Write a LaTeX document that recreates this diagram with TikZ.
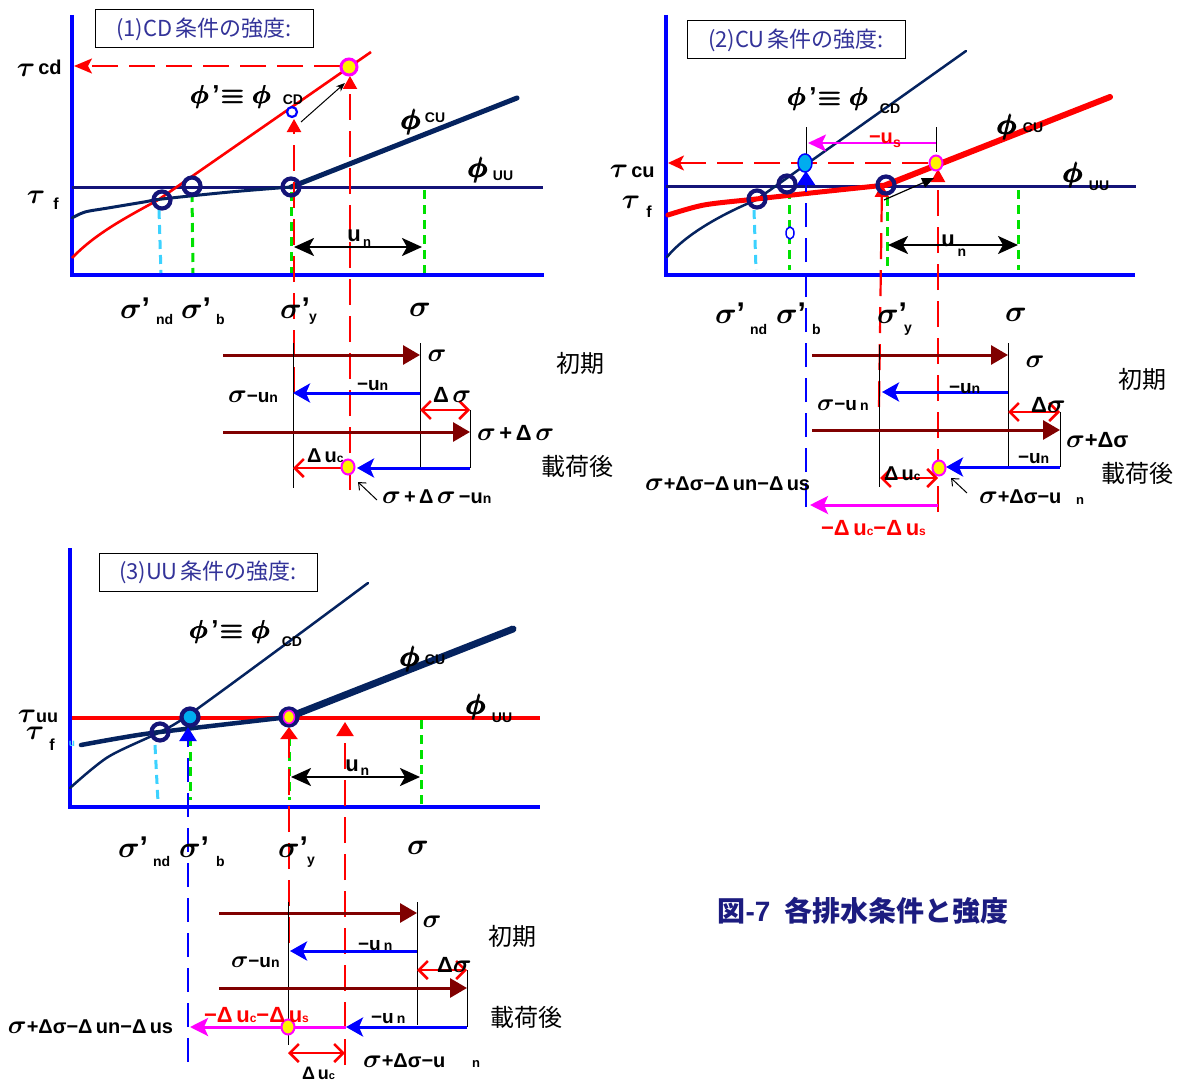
\RequirePackage{fix-cm}
\documentclass[tikz,border=0pt]{standalone}
\usepackage{amsmath}
\usepackage{fontspec}
\setmainfont{Liberation Sans}
\newfontfamily\jp{Noto Sans CJK JP}
\usetikzlibrary{arrows.meta,shapes.geometric}

\definecolor{axisblue}{RGB}{0,0,255}
\definecolor{navyln}{RGB}{20,20,120}
\definecolor{cunavy}{RGB}{5,35,95}
\definecolor{titleblue}{RGB}{51,51,153}
\definecolor{dkred}{RGB}{128,0,0}
\definecolor{lgreen}{RGB}{0,225,0}
\definecolor{lcyan}{RGB}{60,210,255}
\definecolor{capblue}{RGB}{28,28,128}
\definecolor{mag}{RGB}{255,0,255}

\newcommand\fs[1]{\fontsize{#1}{#1}\selectfont}
\newcommand\Sg{\ensuremath{\boldsymbol{\sigma}}}
\newcommand\Tu{\ensuremath{\boldsymbol{\tau}}}
\newcommand\Ph{\ensuremath{\pmb{\boldsymbol{\phi}}}}
\newcommand\SG[1]{{\fs{#1}\Sg}}
\newcommand\PhEq{\Ph\hspace{3pt}\textbf{’}\hspace{2pt}$\pmb{\boldsymbol{\equiv}}$\hspace{8pt}\Ph}

\tikzset{
  txt/.style={inner sep=0pt, outer sep=0pt},
  sn/.style={txt, font=\bfseries\fs{20}},
  sb/.style={txt, font=\bfseries\fs{14}},
  gx/.style={txt, font=\fs{30}},
  jpn/.style={txt, font=\jp\fs{24}},
  titlebox/.style={draw=black, line width=1pt, minimum width=218pt, minimum height=38pt,
    inner sep=0pt, font=\jp\fs{22}, text=titleblue},
  axisln/.style={axisblue, line width=4.5pt, line join=miter},
  tauln/.style={navyln, line width=3pt},
  cuthin/.style={cunavy, line width=3pt, line cap=round},
  cuthick/.style={cunavy, line width=5pt, line cap=round},
  cdthin/.style={cunavy, line width=2.5pt, line cap=round},
  grn/.style={lgreen, line width=3pt, dash pattern=on 9pt off 6pt},
  cyn/.style={lcyan, line width=3pt, dash pattern=on 9pt off 6pt},
  rdash/.style={red, line width=2.2pt, dash pattern=on 26pt off 11pt},
  bdash/.style={axisblue, line width=2.2pt, dash pattern=on 24pt off 11pt},
  ring/.style={circle, draw=navyln, line width=4.2pt, minimum size=17pt, inner sep=0pt},
  yel/.style={ellipse, fill=yellow, draw=mag, line width=2pt, minimum width=13pt, minimum height=15pt, inner sep=0pt},
  cyb/.style={ellipse, fill=cyan, draw=axisblue, line width=1.5pt, minimum width=14pt, minimum height=18pt, inner sep=0pt},
  dkarr/.style={dkred, line width=3pt, -{Triangle[length=17pt,width=19pt]}},
  barr/.style={axisblue, line width=3pt, -{Stealth[length=17pt,width=19pt,inset=4pt]}},
  ropen/.style={red, line width=2.5pt, -{Straight Barb[length=9pt,width=18pt]}},
  ropentwo/.style={red, line width=2.5pt, {Straight Barb[length=9pt,width=18pt]}-{Straight Barb[length=9pt,width=18pt]}},
  marr/.style={mag, line width=3pt, -{Stealth[length=18pt,width=18pt,inset=4pt]}},
  blk/.style={black, line width=1pt},
  unarr/.style={black, line width=2.5pt, {Stealth[length=20pt,width=18pt,inset=5pt]}-{Stealth[length=20pt,width=18pt,inset=5pt]}},
  rup/.style={-{Triangle[length=13pt,width=14pt]}},
}

\begin{document}
\begin{tikzpicture}[x=1pt,y=-1pt]
\useasboundingbox (0,0) rectangle (1179,1081);
\fill[white] (0,0) rectangle (1179,1081);

%% ================= (1) CD =================
\draw[axisln] (72,15) -- (72,275) -- (544,275);
\draw[tauln] (72,187) -- (543,187);
\draw[cyn] (159,210) -- (161,273);
\draw[grn] (192,193) -- (193,273);
\draw[grn] (291,192) -- (291,273);
\draw[grn] (424,190) -- (424,273);
\draw[red, line width=2.6pt] (72,258) .. controls (95,234) and (125,218) .. (158,200) -- (371,52);
\draw[cuthin] plot[smooth] coordinates {(72,218) (85,212) (108,208) (144,202) (162,199) (230,192) (291,187)};
\draw[cuthick] (291,187) -- (517,98);
\draw[rdash, rup] (294,393) -- (294,119);
\draw[rdash, rup] (350,490) -- (350,76);
\draw[rdash, -{Stealth[length=18pt,width=15pt,inset=4pt]}] (340,66) -- (74,66);
\node[ring] (r1a) at (162,200) {};
\node[ring] (r1b) at (192,186) {};
\node[ring] (r1c) at (291,187) {};
\node[circle, draw=axisblue, fill=white, line width=2.2pt, minimum size=10pt, inner sep=0pt] (o1) at (292,112) {};
\node[yel, minimum width=16pt, minimum height=16pt, line width=3pt] (y1) at (349,67) {};
\draw[black, line width=1pt, -{Stealth[length=9pt,width=7pt]}] (301,122) -- (345,83);
\draw[unarr] (294,247) -- (422,247);
\node[titlebox] (t1) at (204,29) {(1)CD\hspace{3pt}条件の強度:};
\node[txt, font=\fs{28}] (p1tcd) at (26,70) {\Tu};
\node[sn] (p1cd) at (50,67) {cd};
\node[txt, font=\fs{28}] (p1tf) at (36,197) {\Tu};
\node[txt, font=\bfseries\fs{16}] (p1f) at (56,204) {f};
\node[txt, font=\fs{26}] (p1phi) at (231,97) {\PhEq};
\node[sb] (p1cdsub) at (293,100) {CD};
\node[txt, font=\fs{28}] (p1phicu) at (411,122) {\Ph};
\node[sb] (p1cu) at (435,118) {CU};
\node[txt, font=\fs{28}] (p1phiuu) at (478,170) {\Ph};
\node[sb] (p1uu) at (503,176) {UU};
\node[txt, font=\bfseries\fs{22}] (p1u) at (354,236) {u};
\node[txt, font=\bfseries\fs{13}] (p1n) at (367,243) {n};
\node[gx, anchor=base west] (p1snd) at (120,318) {\Sg\textbf{’}};
\node[sb, anchor=base west] (p1nd) at (156,324) {nd};
\node[gx, anchor=base west] (p1sb) at (181,318) {\Sg\textbf{’}};
\node[sb, anchor=base west] (p1b) at (216,324) {b};
\node[gx, anchor=base west] (p1sy) at (280,318) {\Sg\textbf{’}};
\node[sb, anchor=base west] (p1y) at (309,321) {y};
\node[gx] (p1s) at (420,310) {\Sg};

% stress bars
\draw[dkarr] (223,355) -- (420,355);
\draw[blk] (420,343) -- (420,468);
\draw[blk] (293,343) -- (293,488);
\draw[blk] (470,410) -- (470,468);
\draw[barr] (420,393) -- (293,393);
\draw[ropentwo] (420,410) -- (470,410);
\draw[dkarr] (223,432) -- (470,432);
\draw[barr] (470,468) -- (357,468);
\draw[ropen] (346,468) -- (293,468);
\node[yel] (y1b) at (348,467) {};
\draw[black, line width=1pt, -{Straight Barb[length=6pt,width=10pt]}] (377,500) -- (358,482);
\node[txt] (b1s) at (437,356) {\SG{26}};
\node[jpn] (b1init) at (580,363) {初期};
\node[txt, anchor=base west, font=\bfseries\fs{19}] (b1mun) at (357,390) {−u{\fs{14}n}};
\node[txt, anchor=base west, font=\bfseries\fs{19}] (b1smu) at (228,402) {\SG{26}−u{\fs{14}n}};
\node[txt, anchor=base west, font=\bfseries\fs{22}] (b1ds) at (433,402) {Δ\,\SG{26}};
\node[txt, anchor=base west, font=\bfseries\fs{22}] (b1spd) at (477,440) {\SG{26}\,+\,Δ\,\SG{26}};
\node[txt, anchor=base west, font=\bfseries\fs{20}] (b1duc) at (307,462) {Δ\,u{\fs{12}c}};
\node[txt, anchor=base west, font=\bfseries\fs{20}] (b1sdu) at (382,503) {\SG{26}\,+\,Δ\,\SG{26}\,−u{\fs{14}n}};
\node[jpn] (b1load) at (577,466) {載荷後};

%% ================= (2) CU =================
\draw[axisln] (666,15) -- (666,275) -- (1135,275);
\draw[tauln] (666,186) -- (1136,186);
\draw[cyn] (754,210) -- (756,270);
\draw[grn] (789,190) -- (789,270);
\draw[grn] (887,197) -- (887,270);
\draw[grn] (1018,190) -- (1018,270);
\draw[cdthin] (667,257) .. controls (685,235) and (720,215) .. (756,200) -- (966,51);
\draw[red, line width=5pt, line cap=round] plot[smooth] coordinates {(668,215) (704,205) (756,199) (820,192) (886,185)};
\draw[red, line width=6pt, line cap=round] (886,185) -- (1110,97);
\draw[bdash, -{Triangle[length=14pt,width=18pt]}] (806,507) -- (806,171);
\draw[rdash, rup] (879,407) -- (882,184);
\draw[rdash, rup] (938,512) -- (938,169);
\draw[rdash, -{Stealth[length=16pt,width=15pt,inset=4pt]}] (928,163) -- (668,163);
\draw[blk] (806,127) -- (806,157);
\draw[blk] (936,127) -- (936,152);
\draw[mag, line width=2pt, -{Stealth[length=18pt,width=17pt,inset=4pt]}] (936,143) -- (808,143);
\draw[black, line width=1.2pt, -{Triangle[length=12pt,width=10pt]}] (884,200) -- (934,178);
\node[ellipse, draw=axisblue, fill=white, line width=1.5pt, minimum width=8pt, minimum height=12pt, inner sep=0pt] (o2) at (790,233) {};
\node[ring] (r2a) at (757,199) {};
\node[ring] (r2b) at (787,184) {};
\node[ring] (r2c) at (886,185) {};
\node[cyb] (c2) at (805,163) {};
\node[yel] (y2) at (936,163) {};
\draw[unarr] (888,245) -- (1018,245);
\node[titlebox] (t2) at (796,40) {(2)CU\hspace{3pt}条件の強度:};
\node[txt, font=\fs{28}] (p2tcu) at (619,171) {\Tu};
\node[sn] (p2cu) at (643,172) {cu};
\node[txt, font=\fs{28}] (p2tf) at (631,202) {\Tu};
\node[txt, font=\bfseries\fs{16}] (p2f) at (649,212) {f};
\node[txt, font=\fs{26}] (p2phi) at (828,99) {\PhEq};
\node[sb] (p2cdsub) at (890,109) {CD};
\node[txt, font=\fs{28}] (p2phicu) at (1007,127) {\Ph};
\node[sb] (p2cu2) at (1033,128) {CU};
\node[txt, font=\fs{28}] (p2phiuu) at (1073,175) {\Ph};
\node[sb] (p2uu) at (1099,186) {UU};
\node[txt, font=\bfseries\fs{20}, text=red] (p2mu) at (881,138) {−u};
\node[txt, font=\bfseries\fs{14}, text=red] (p2s) at (897,144) {s};
\node[txt, font=\bfseries\fs{22}] (p2u) at (948,241) {u};
\node[txt, font=\bfseries\fs{14}] (p2n) at (962,253) {n};
\node[gx, anchor=base west] (p2snd) at (715,323) {\Sg\textbf{’}};
\node[sb, anchor=base west] (p2nd) at (750,334) {nd};
\node[gx, anchor=base west] (p2sb) at (776,323) {\Sg\textbf{’}};
\node[sb, anchor=base west] (p2b) at (812,334) {b};
\node[gx, anchor=base west] (p2sy) at (877,323) {\Sg\textbf{’}};
\node[sb, anchor=base west] (p2y) at (904,332) {y};
\node[gx] (p2s) at (1016,315) {\Sg};

% stress bars
\draw[dkarr] (812,355) -- (1008,355);
\draw[blk] (1008,343) -- (1008,467);
\draw[blk] (879,345) -- (879,487);
\draw[blk] (1060,412) -- (1060,467);
\draw[barr] (1008,392) -- (882,392);
\draw[ropentwo] (1008,412) -- (1060,412);
\draw[dkarr] (812,430) -- (1060,430);
\draw[barr] (1060,467) -- (946,467);
\node[yel] (y2b) at (939,468) {};
\draw[ropentwo] (880,478) -- (938,478);
\draw[black, line width=1pt, -{Straight Barb[length=6pt,width=10pt]}] (967,493) -- (951,478);
\draw[marr] (938,505) -- (810,505);
\node[txt] (b2s) at (1035,362) {\SG{26}};
\node[jpn] (b2init) at (1142,379) {初期};
\node[txt, anchor=base west, font=\bfseries\fs{19}] (b2mun) at (949,393) {−u{\fs{14}n}};
\node[txt, anchor=base west, font=\bfseries\fs{19}] (b2smu) at (817,410) {\SG{24}−u\,{\fs{14}n}};
\node[txt, anchor=base west, font=\bfseries\fs{22}] (b2ds) at (1031,412) {Δ\SG{26}};
\node[txt, anchor=base west, font=\bfseries\fs{22}] (b2spd) at (1066,447) {\SG{26}+Δσ};
\node[txt, anchor=base west, font=\bfseries\fs{19}] (b2mun2) at (1018,463) {−u{\fs{14}n}};
\node[txt, anchor=base west, font=\bfseries\fs{20}] (b2duc) at (884,480) {Δ\,u{\fs{12}c}};
\node[txt, anchor=base west, font=\bfseries\fs{20}] (b2sdu) at (979,503) {\SG{26}+Δσ−u};
\node[txt, font=\bfseries\fs{13}] (b2n) at (1080,501) {n};
\node[jpn] (b2load) at (1137,473) {載荷後};
\node[txt, anchor=base west, font=\bfseries\fs{20}] (b2all) at (645,490) {\SG{26}+Δσ−Δ\,un−Δ\,us};
\node[txt, anchor=base west, font=\bfseries\fs{22}, text=red] (b2neg) at (821,535) {−Δ\,u{\fs{12}c}−Δ\,u{\fs{12}s}};

%% ================= (3) UU =================
\draw[axisln] (70,548) -- (70,807) -- (540,807);
\draw[red, line width=4pt] (72,718) -- (540,718);
\draw[cyn] (155,745) -- (158,802);
\draw[grn] (190,737) -- (190,800);
\draw[grn] (289,737) -- (289,800);
\draw[grn] (421,720) -- (421,805);
\draw[cdthin] plot[smooth] coordinates {(70,788) (108,757) (160,732) (190,714) (279,649) (368,583)};
\draw[cuthin, line width=4.5pt] plot[smooth] coordinates {(81,745) (120,738) (160,732) (289,717)};
\draw[cuthick, line width=7pt] (289,717) -- (513,629);
\draw[bdash, -{Triangle[length=14pt,width=17pt]}] (188,1062) -- (188,727);
\draw[rdash, -{Triangle[length=12pt,width=17pt]}] (289,943) -- (289,727);
\draw[rdash, -{Triangle[length=14pt,width=17pt]}] (345,1065) -- (345,722);
\node[ring] (r3a) at (160,732) {};
\node[ring, fill=cyan] (c3) at (190,717) {};
\node[ring] (y3ring) at (289,717) {};
\node[yel, minimum width=11pt, minimum height=13pt, line width=1.5pt] (y3) at (289,717) {};
\draw[unarr] (291,777) -- (420,777);
\node[titlebox] (t3) at (208,572) {(3)UU\hspace{3pt}条件の強度:};
\node[txt, font=\fs{28}] (p3tuu) at (27,716) {\Tu};
\node[txt, font=\bfseries\fs{18}] (p3uu) at (47,718) {uu};
\node[txt, font=\fs{28}] (p3tf) at (35,733) {\Tu};
\node[txt, font=\bfseries\fs{16}] (p3f) at (52,745) {f};
\node[txt, font=\bfseries\fs{10}, text=lcyan] (p3fu) at (72,744) {u};
\node[txt, font=\fs{26}] (p3phi) at (230,632) {\PhEq};
\node[sb] (p3cdsub) at (292,642) {CD};
\node[txt, font=\fs{28}] (p3phicu) at (410,659) {\Ph};
\node[sb] (p3cu) at (435,660) {CU};
\node[txt, font=\fs{28}] (p3phiuu) at (476,707) {\Ph};
\node[sb] (p3uu2) at (502,718) {UU};
\node[txt, font=\bfseries\fs{22}] (p3u) at (352,766) {u};
\node[txt, font=\bfseries\fs{14}] (p3n) at (365,772) {n};
\node[gx, anchor=base west] (p3snd) at (118,857) {\Sg\textbf{’}};
\node[sb, anchor=base west] (p3nd) at (153,866) {nd};
\node[gx, anchor=base west] (p3sb) at (179,857) {\Sg\textbf{’}};
\node[sb, anchor=base west] (p3b) at (216,866) {b};
\node[gx, anchor=base west] (p3sy) at (278,857) {\Sg\textbf{’}};
\node[sb, anchor=base west] (p3y) at (307,864) {y};
\node[gx] (p3s) at (418,848) {\Sg};

% stress bars
\draw[dkarr] (219,913) -- (417,913);
\draw[blk] (417,902) -- (417,1025);
\draw[blk] (288,902) -- (288,1045);
\draw[blk] (467,970) -- (467,1027);
\draw[barr] (417,951) -- (290,951);
\draw[ropentwo] (417,970) -- (467,970);
\draw[dkarr] (219,988) -- (467,988);
\draw[barr] (467,1027) -- (346,1027);
\draw[marr] (346,1027) -- (190,1027);
\node[yel] (y3b) at (288,1027) {};
\draw[ropentwo] (288,1053) -- (345,1053);
\node[txt] (b3s) at (432,922) {\SG{26}};
\node[jpn] (b3init) at (512,936) {初期};
\node[txt, anchor=base west, font=\bfseries\fs{19}] (b3mun) at (358,950) {−u\,{\fs{14}n}};
\node[txt, anchor=base west, font=\bfseries\fs{19}] (b3smu) at (231,967) {\SG{24}−u{\fs{14}n}};
\node[txt, anchor=base west, font=\bfseries\fs{22}] (b3ds) at (437,972) {Δ\SG{26}};
\node[jpn] (b3load) at (526,1017) {載荷後};
\node[txt, anchor=base west, font=\bfseries\fs{19}] (b3mun2) at (371,1023) {−u\,{\fs{14}n}};
\node[txt, anchor=base west, font=\bfseries\fs{22}, text=red] (b3neg) at (204,1022) {−Δ\,u{\fs{12}c}−Δ\,u{\fs{12}s}};
\node[txt, anchor=base west, font=\bfseries\fs{20}] (b3all) at (8,1033) {\SG{26}+Δσ−Δ\,un−Δ\,us};
\node[txt, anchor=base west, font=\bfseries\fs{20}] (b3sdu) at (363,1067) {\SG{26}+Δσ−u};
\node[txt, font=\bfseries\fs{13}] (b3n) at (476,1064) {n};
\node[txt, anchor=base west, font=\bfseries\fs{18}] (b3duc) at (302,1079) {Δ\,u{\fs{11}c}};

%% caption
\node[txt, font=\jp\bfseries\fs{28}, text=capblue] (cap) at (863,911) {図{\rmfamily\bfseries -7}\hspace{14pt}各排水条件と強度};
\end{tikzpicture}
\end{document}
